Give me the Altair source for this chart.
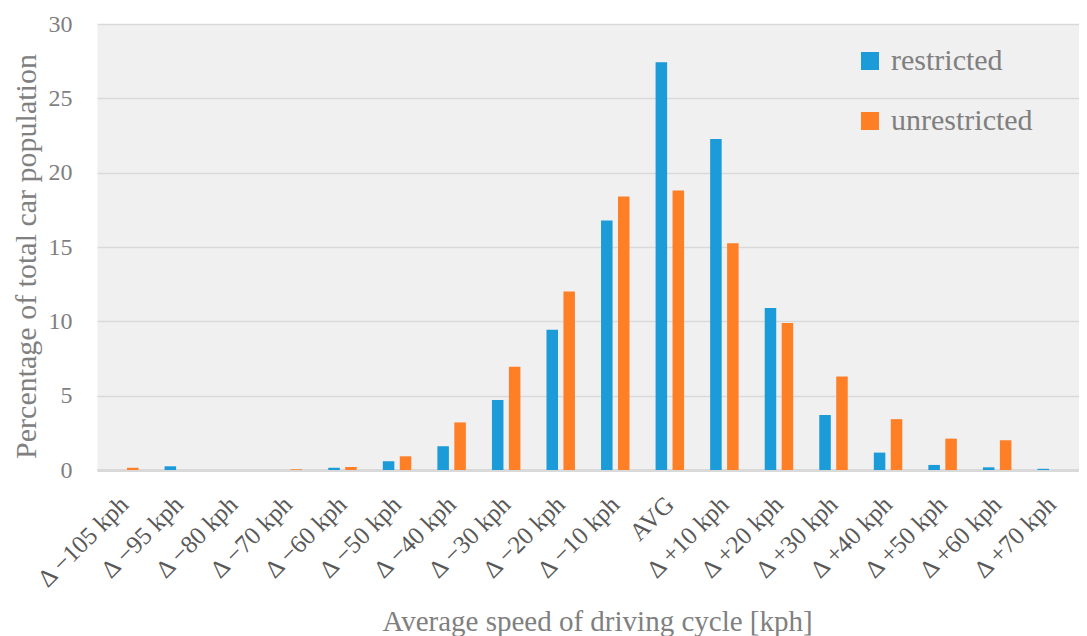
import altair as alt
import pandas as pd

categories = ["Δ −105 kph", "Δ −95 kph", "Δ −80 kph", "Δ −70 kph", "Δ −60 kph",
              "Δ −50 kph", "Δ −40 kph", "Δ −30 kph", "Δ −20 kph", "Δ −10 kph",
              "AVG", "Δ +10 kph", "Δ +20 kph", "Δ +30 kph", "Δ +40 kph",
              "Δ +50 kph", "Δ +60 kph", "Δ +70 kph"]
series_names = ["restricted", "unrestricted"]
restricted = [0, 0.25, 0, 0, 0.15, 0.59, 1.6, 4.71, 9.44, 16.78, 27.43, 22.27,
              10.9, 3.7, 1.17, 0.34, 0.18, 0.08]
unrestricted = [0.15, 0, 0, 0.05, 0.2, 0.92, 3.2, 6.95, 12.0, 18.39, 18.8, 15.25,
                9.89, 6.29, 3.42, 2.11, 2.0, 0]
colors = ["#1B9BD7", "#FF7F27"]

rows = []
for c, r, u in zip(categories, restricted, unrestricted):
    rows.append({"cat": c, "series": "restricted", "value": r})
    rows.append({"cat": c, "series": "unrestricted", "value": u})
df = pd.DataFrame(rows)

FONT = "Liberation Serif"

chart = alt.Chart(df).mark_bar().encode(
    x=alt.X("cat:N", sort=categories,
            scale=alt.Scale(paddingInner=0.478, paddingOuter=0.239),
            axis=alt.Axis(labelAngle=-45, labelAlign="right", labelBaseline="middle",
                          labelPadding=30, ticks=False, grid=False,
                          domainColor="#d9d9d9", domainWidth=3,
                          labelFont=FONT, labelFontSize=25, labelColor="#595959",
                          titleFont=FONT, titleFontSize=29, titleColor="#808080",
                          titleFontWeight="normal", titleX=500, titleY=151,
                          titleAlign="center", titleBaseline="middle"),
            title="Average speed of driving cycle [kph]"),
    xOffset=alt.XOffset("series:N", sort=series_names,
                        scale=alt.Scale(paddingInner=0.32, paddingOuter=0)),
    y=alt.Y("value:Q", scale=alt.Scale(domain=[0, 30], nice=False),
            axis=alt.Axis(values=[0, 5, 10, 15, 20, 25, 30], domain=False, ticks=False,
                          grid=True, gridColor="#d9d9d9", gridWidth=1.6,
                          labelFont=FONT, labelFontSize=24, labelColor="#7f7f7f",
                          labelPadding=25,
                          titleFont=FONT, titleFontSize=30, titleColor="#808080",
                          titleFontWeight="normal", titleX=-71, titleY=232,
                          titleAngle=270, titleAlign="center", titleBaseline="middle"),
            title="Percentage of total car population"),
    color=alt.Color("series:N", sort=series_names,
                    scale=alt.Scale(domain=series_names, range=colors),
                    legend=alt.Legend(orient="none", legendX=758, legendY=22, title=None,
                                      symbolType="square", symbolSize=324,
                                      symbolStrokeWidth=0, labelFont=FONT,
                                      labelFontSize=30, labelColor="#7f7f7f",
                                      rowPadding=30, padding=0, labelOffset=6)),
).properties(
    width=982, height=446,
    autosize=alt.AutoSizeParams(type="none"),
    padding={"left": 89, "top": 16, "right": 0, "bottom": 166},
).configure_view(fill="#f0f0f0", strokeOpacity=0)

chart.save("out.html", embed_options={"renderer": "svg", "actions": False})
